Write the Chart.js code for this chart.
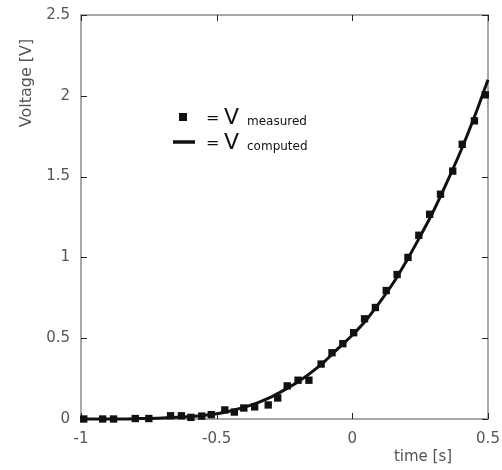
<!DOCTYPE html>
<html>
<head>
<meta charset="utf-8">
<script src="https://cdn.jsdelivr.net/npm/chart.js@4.4.1/dist/chart.umd.min.js"></script>
<style>
  html, body { margin: 0; padding: 0; background: #fff; }
</style>
</head>
<body>
<canvas id="voltChart" width="502" height="470"></canvas>
<script>
// measured samples
const measuredTime = [-0.99, -0.92, -0.88, -0.80, -0.75, -0.67, -0.63, -0.595, -0.555, -0.52,
  -0.47, -0.435, -0.40, -0.36, -0.31, -0.275, -0.24, -0.20, -0.16, -0.115,
  -0.075, -0.035, 0.005, 0.045, 0.085, 0.125, 0.165, 0.205, 0.245, 0.285,
  0.325, 0.37, 0.405, 0.45, 0.49];
const measuredVolt = [0.0, 0.0, 0.0, 0.003, 0.003, 0.02, 0.02, 0.01, 0.018, 0.027,
  0.056, 0.043, 0.068, 0.075, 0.087, 0.13, 0.205, 0.24, 0.24, 0.34,
  0.41, 0.466, 0.534, 0.62, 0.69, 0.795, 0.894, 1.0, 1.137, 1.267,
  1.391, 1.534, 1.70, 1.845, 2.006];

// computed curve
const computedTime = [-1.0, -0.9, -0.8, -0.7, -0.6, -0.5, -0.45, -0.4, -0.35, -0.3,
  -0.25, -0.2, -0.15, -0.1, -0.05, 0.0, 0.05, 0.1, 0.15, 0.2,
  0.25, 0.3, 0.35, 0.4, 0.45, 0.5];
const computedVolt = [0.0, 0.0, 0.002, 0.006, 0.015, 0.033, 0.05, 0.072, 0.1, 0.135,
  0.18, 0.23, 0.29, 0.36, 0.44, 0.52, 0.61, 0.72, 0.84, 0.98,
  1.13, 1.29, 1.47, 1.66, 1.87, 2.1];

const xTicks = [-1, -0.5, 0, 0.5];
const yTicks = [0, 0.5, 1, 1.5, 2, 2.5];

const FONT = "'DejaVu Sans', Verdana, sans-serif";
const FRAME = '#a8a8a8';
const LABEL = '#555';

// frame box + inward ticks on all four sides
const framePlugin = {
  id: 'frame',
  beforeDatasetsDraw(chart) {
    const { ctx, chartArea: a, scales } = chart;
    ctx.save();
    ctx.strokeStyle = FRAME;
    ctx.lineWidth = 2;
    ctx.strokeRect(a.left, a.top, a.right - a.left, a.bottom - a.top);

    ctx.strokeStyle = '#222';
    ctx.lineWidth = 1;
    const len = 6;
    ctx.beginPath();
    xTicks.forEach(v => {
      const px = Math.round(scales.x.getPixelForValue(v)) + 0.5;
      ctx.moveTo(px, a.bottom); ctx.lineTo(px, a.bottom - len);
      ctx.moveTo(px, a.top); ctx.lineTo(px, a.top + len);
    });
    yTicks.forEach(v => {
      const py = Math.round(scales.y.getPixelForValue(v)) + 0.5;
      ctx.moveTo(a.left, py); ctx.lineTo(a.left + len, py);
      ctx.moveTo(a.right, py); ctx.lineTo(a.right - len, py);
    });
    ctx.stroke();
    ctx.restore();
  },
  afterDraw(chart) {
    const { ctx } = chart;
    ctx.save();
    // axis titles
    ctx.fillStyle = LABEL;
    ctx.textAlign = 'center';
    ctx.textBaseline = 'middle';
    ctx.font = `15px ${FONT}`;
    ctx.fillText('time [s]', 423, 457);
    ctx.font = `16px ${FONT}`;
    ctx.translate(27, 83);
    ctx.rotate(-Math.PI / 2);
    ctx.fillText('Voltage [V]', 0, 0);
    ctx.restore();

    // key with subscripted labels
    ctx.save();
    ctx.fillStyle = '#111';
    ctx.fillRect(179, 113, 8, 8);
    ctx.strokeStyle = '#111';
    ctx.lineWidth = 3.5;
    ctx.beginPath();
    ctx.moveTo(173, 142); ctx.lineTo(195, 142);
    ctx.stroke();

    ctx.textBaseline = 'alphabetic';
    ctx.textAlign = 'left';
    const rows = [['measured', 124], ['computed', 149]];
    rows.forEach(([sub, base]) => {
      ctx.font = `16px ${FONT}`;
      ctx.fillText('=', 206, base - 1);
      ctx.font = `22px ${FONT}`;
      ctx.fillText('V', 224, base);
      ctx.font = `12px ${FONT}`;
      ctx.fillText(sub, 247, base + 1);
    });
    ctx.restore();
  }
};

new Chart(document.getElementById('voltChart'), {
  type: 'scatter',
  data: {
    datasets: [
      {
        label: 'V measured',
        data: measuredTime.map((t, i) => ({ x: t, y: measuredVolt[i] })),
        pointStyle: 'rect',
        pointRadius: 5.2,
        pointBorderWidth: 0,
        backgroundColor: '#111',
        clip: false,
        order: 1
      },
      {
        label: 'V computed',
        type: 'line',
        data: computedTime.map((t, i) => ({ x: t, y: computedVolt[i] })),
        borderColor: '#111',
        borderWidth: 3,
        pointRadius: 0,
        cubicInterpolationMode: 'monotone',
        fill: false,
        clip: false,
        order: 0
      }
    ]
  },
  options: {
    responsive: false,
    animation: false,
    devicePixelRatio: 1,
    layout: { padding: { top: 15, right: 14, left: 0, bottom: 0 } },
    plugins: {
      legend: { display: false },
      tooltip: { enabled: false }
    },
    scales: {
      x: {
        type: 'linear',
        min: -1,
        max: 0.5,
        afterBuildTicks: s => { s.ticks = xTicks.map(v => ({ value: v })); },
        afterFit: s => { s.height = 51; s.paddingLeft = 0; s.paddingRight = 0; },
        grid: { display: false, drawTicks: false },
        border: { display: false },
        ticks: {
          padding: 11,
          color: LABEL,
          font: { family: FONT, size: 15 },
          callback: v => String(v)
        }
      },
      y: {
        type: 'linear',
        min: 0,
        max: 2.5,
        afterBuildTicks: s => { s.ticks = yTicks.map(v => ({ value: v })); },
        afterFit: s => { s.width = 81; s.paddingTop = 0; s.paddingBottom = 0; },
        grid: { display: false, drawTicks: false },
        border: { display: false },
        ticks: {
          padding: 11,
          color: LABEL,
          font: { family: FONT, size: 15 },
          callback: v => String(v)
        }
      }
    }
  },
  plugins: [framePlugin]
});
</script>
</body>
</html>
